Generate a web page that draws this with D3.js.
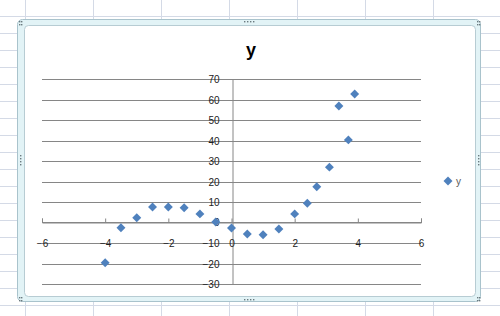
<!DOCTYPE html>
<html><head><meta charset="utf-8">
<script src="https://cdn.jsdelivr.net/npm/d3@7/dist/d3.min.js"></script>
<style>body{margin:0;background:#fff}svg{display:block}</style>
</head><body>
<svg id="c" width="500" height="316"></svg>
<script>
const seriesName = "y";
const xValues = [-4, -3.5, -3, -2.5, -2, -1.5, -1, -0.5, 0, 0.5, 1, 1.5, 2, 2.4, 2.7, 3.1, 3.4, 3.7, 3.9];
const yValues = [-19.6, -2.6, 2.3, 7.6, 7.6, 7.2, 4.2, 0.2, -2.7, -5.6, -6.0, -3.2, 4.2, 9.4, 17.4, 27.0, 56.8, 40.3, 62.7];
const xTicks = [-6, -4, -2, 0, 2, 4, 6];
const yTicks = [-30, -20, -10, 0, 10, 20, 30, 40, 50, 60, 70];

const svg = d3.select("#c");
const W = 500, H = 316;

// spreadsheet background grid
const bg = svg.append("g");
d3.range(16, H, 17).forEach(y => bg.append("line").attr("x1",0).attr("x2",W).attr("y1",y+0.5).attr("y2",y+0.5).attr("stroke","#d4dae6"));
d3.range(25, W, 68).forEach(x => bg.append("line").attr("x1",x+0.5).attr("x2",x+0.5).attr("y1",0).attr("y2",H).attr("stroke","#d4dae6"));

// chart frame (selected chart look)
svg.append("rect").attr("x",17.5).attr("y",19.5).attr("width",463).attr("height",282).attr("rx",5)
  .attr("fill","#e2f3f6").attr("stroke","#a9c3cc");
svg.append("rect").attr("x",24.5).attr("y",25.5).attr("width",451).attr("height",271).attr("rx",4)
  .attr("fill","#ffffff").attr("stroke","#b7ccd3");
// handles
const hd = svg.append("g").attr("fill","#6b7a80");
[[19,21],[21,21],[19,24],[21,24]].forEach(p=>hd.append("rect").attr("x",p[0]).attr("y",p[1]).attr("width",1.4).attr("height",1.4));
[[477,21],[479,21],[477,24],[479,24]].forEach(p=>hd.append("rect").attr("x",p[0]).attr("y",p[1]).attr("width",1.4).attr("height",1.4));
[[19,297],[21,297],[19,300],[21,300]].forEach(p=>hd.append("rect").attr("x",p[0]).attr("y",p[1]).attr("width",1.4).attr("height",1.4));
[[477,297],[479,297],[477,300],[479,300]].forEach(p=>hd.append("rect").attr("x",p[0]).attr("y",p[1]).attr("width",1.4).attr("height",1.4));
[244,247,250,253].forEach(x=>{hd.append("rect").attr("x",x).attr("y",21).attr("width",1.4).attr("height",1.4);
  hd.append("rect").attr("x",x).attr("y",299).attr("width",1.4).attr("height",1.4);});
[155,158,161,164].forEach(y=>{hd.append("rect").attr("x",20).attr("y",y).attr("width",1.4).attr("height",1.4);
  hd.append("rect").attr("x",478).attr("y",y).attr("width",1.4).attr("height",1.4);});

// scales
const x = d3.scaleLinear().domain([-6, 6]).range([42, 421]);
const y = d3.scaleLinear().domain([-30, 70]).range([284, 79]);

// gridlines
const grid = svg.append("g");
grid.selectAll("line").data(yTicks).join("line")
  .attr("x1", x(-6)).attr("x2", x(6))
  .attr("y1", d => Math.round(y(d)) + 0.5).attr("y2", d => Math.round(y(d)) + 0.5)
  .attr("stroke", "#868686");

// y axis at x=0
const yAxis = d3.axisLeft(y).tickValues(yTicks).tickSize(4).tickPadding(9);
const gy = svg.append("g").attr("transform", `translate(${Math.round(x(0))+0.5},0)`).call(yAxis);
gy.select(".domain").attr("stroke", "#868686");
gy.selectAll(".tick line").attr("stroke", "#868686");
gy.selectAll(".tick").attr("transform", d => `translate(0,${Math.round(y(d))+0.5})`);
gy.selectAll("text").attr("font-family", "Liberation Sans, Arial, sans-serif").attr("font-size", 10).attr("fill", "#222");

// x axis at y=0
const xAxis = d3.axisTop(x).tickValues(xTicks).tickSize(4).tickFormat(d3.format("d"));
const gx = svg.append("g").attr("transform", `translate(0,${Math.round(y(0))+0.5})`).call(xAxis);
gx.select(".domain").attr("stroke", "#868686");
gx.selectAll(".tick line").attr("stroke", "#868686");
gx.selectAll("text").attr("font-family", "Liberation Sans, Arial, sans-serif").attr("font-size", 10).attr("fill", "#222")
  .attr("y", 24).attr("dy", 0);

// points
const data = xValues.map((v, i) => ({x: v, y: yValues[i]}));
const sym = d3.symbol().type(d3.symbolSquare).size(40);
svg.append("g").selectAll("path").data(data).join("path")
  .attr("d", sym)
  .attr("transform", d => `translate(${x(d.x)},${y(d.y)}) rotate(45)`)
  .attr("fill", "#4f81bd");

// title
svg.append("text").attr("x", 251).attr("y", 56).attr("text-anchor", "middle")
  .attr("font-family", "Liberation Sans, Arial, sans-serif").attr("font-weight", "bold").attr("font-size", 18)
  .attr("fill", "#000").text(seriesName);

// legend
svg.append("path").attr("d", sym).attr("transform", "translate(448,181) rotate(45)").attr("fill", "#4f81bd");
svg.append("text").attr("x", 456).attr("y", 185).attr("font-family", "Liberation Sans, Arial, sans-serif")
  .attr("font-size", 10).attr("fill", "#595959").text(seriesName);
</script>
</body></html>
